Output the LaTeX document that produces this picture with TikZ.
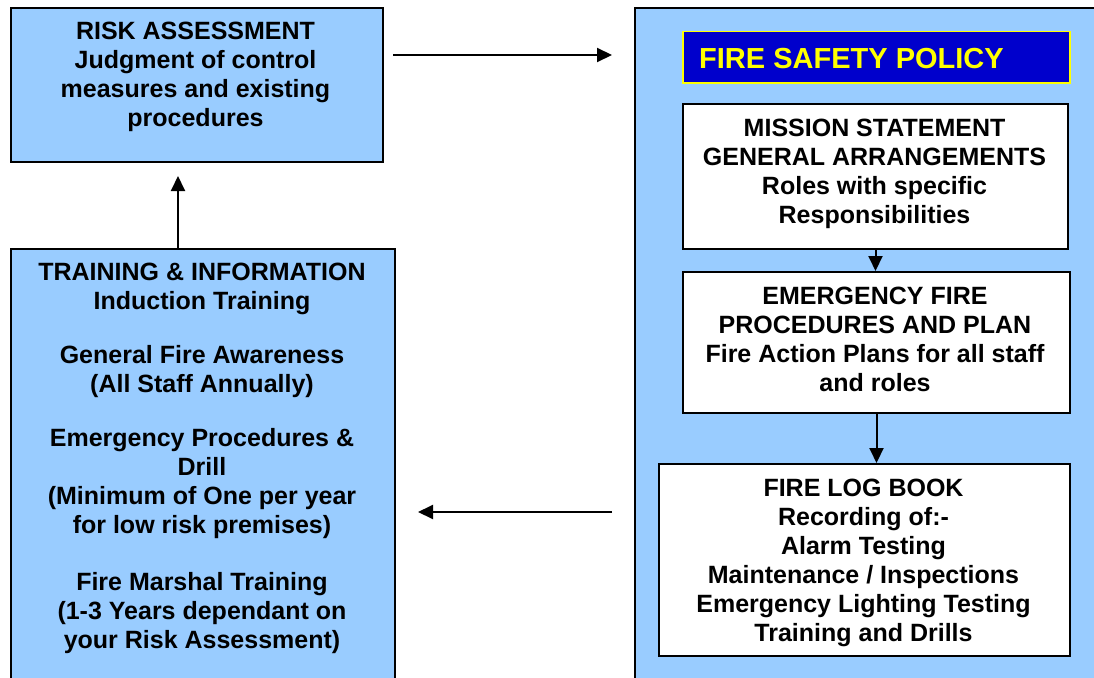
\documentclass[tikz,border=0pt]{standalone}
\usepackage{fontspec}
\setmainfont{Liberation Sans}
\usetikzlibrary{arrows.meta}
\definecolor{lightblue}{HTML}{99CCFF}
\definecolor{titleblue}{HTML}{0000CC}
\definecolor{titleyellow}{HTML}{FFFF00}
\tikzset{
  bluebox/.style={draw=black, line width=2pt, fill=lightblue, rectangle, inner sep=0pt, anchor=north west},
  whitebox/.style={draw=black, line width=2pt, fill=white, rectangle, inner sep=0pt, anchor=north west},
  titlebox/.style={draw=titleyellow, line width=1.5pt, fill=titleblue, rectangle, inner sep=0pt, anchor=north west},
  txt/.style={align=center, inner sep=0pt, anchor=north, font=\fontsize{25}{29}\selectfont\bfseries},
  titletxt/.style={inner sep=0pt, anchor=base west, text=titleyellow, font=\fontsize{29}{34}\selectfont\bfseries},
  conn/.style={line width=2pt, -{Triangle[length=15pt,width=14pt]}}
}
\newcommand{\firstline}{\rule{0pt}{22pt}}
\begin{document}
\begin{tikzpicture}[x=1pt,y=-1pt]
\useasboundingbox (0,0) rectangle (1094,677);
\clip (0,0) rectangle (1094,677);
% boxes
\node[bluebox, minimum width=372pt, minimum height=154pt] (risk) at (9.5,7) {};
\node[bluebox, minimum width=384pt, minimum height=460pt] (training) at (10,248) {};
\node[bluebox, minimum width=500pt, minimum height=700pt] (policy) at (634,7) {};
\node[titlebox, minimum width=387pt, minimum height=51pt] (title) at (682,31) {};
\node[whitebox, minimum width=385pt, minimum height=145pt] (mission) at (682,103) {};
\node[whitebox, minimum width=387pt, minimum height=141pt] (emerg) at (682,271) {};
\node[whitebox, minimum width=411pt, minimum height=192pt] (log) at (658,463) {};
% texts
\node[txt] (risktxt) at (195.5,17) {\firstline RISK ASSESSMENT\\Judgment of control\\measures and existing\\procedures};
\node[txt] (trainingtxt) at (202,258) {\firstline TRAINING \& INFORMATION\\Induction Training\\[25pt]General Fire Awareness\\(All Staff Annually)\\[25pt]Emergency Procedures \&\\Drill\\(Minimum of One per year\\for low risk premises)\\[28pt]Fire Marshal Training\\(1-3 Years dependant on\\your Risk Assessment)};
\node[titletxt] (titlelabel) at (699,68) {FIRE SAFETY POLICY};
\node[txt] (missiontxt) at (874.5,114.5) {\firstline MISSION STATEMENT\\GENERAL ARRANGEMENTS\\Roles with specific\\Responsibilities};
\node[txt] (emergtxt) at (875,282) {\firstline EMERGENCY FIRE\\PROCEDURES AND PLAN\\Fire Action Plans for all staff\\and roles};
\node[txt] (logtxt) at (863.5,474) {\firstline FIRE LOG BOOK\\Recording of:-\\Alarm Testing\\Maintenance / Inspections\\Emergency Lighting Testing\\Training and Drills};
% connector end points
\coordinate (a1s) at (393,55);
\coordinate (a1e) at (612,55);
\coordinate (a2s) at (612,512);
\coordinate (a2e) at (418,512);
\coordinate (a3s) at (178,248);
\coordinate (a3e) at (178,176);
% connectors
\draw[conn] (a1s) -- (a1e);
\draw[conn] (a2s) -- (a2e);
\draw[conn] (a3s) -- (a3e);
\draw[conn] (mission.south) -- (mission.south |- emerg.north);
\draw[conn] (emerg.south) -- (emerg.south |- log.north);
\end{tikzpicture}
\end{document}
